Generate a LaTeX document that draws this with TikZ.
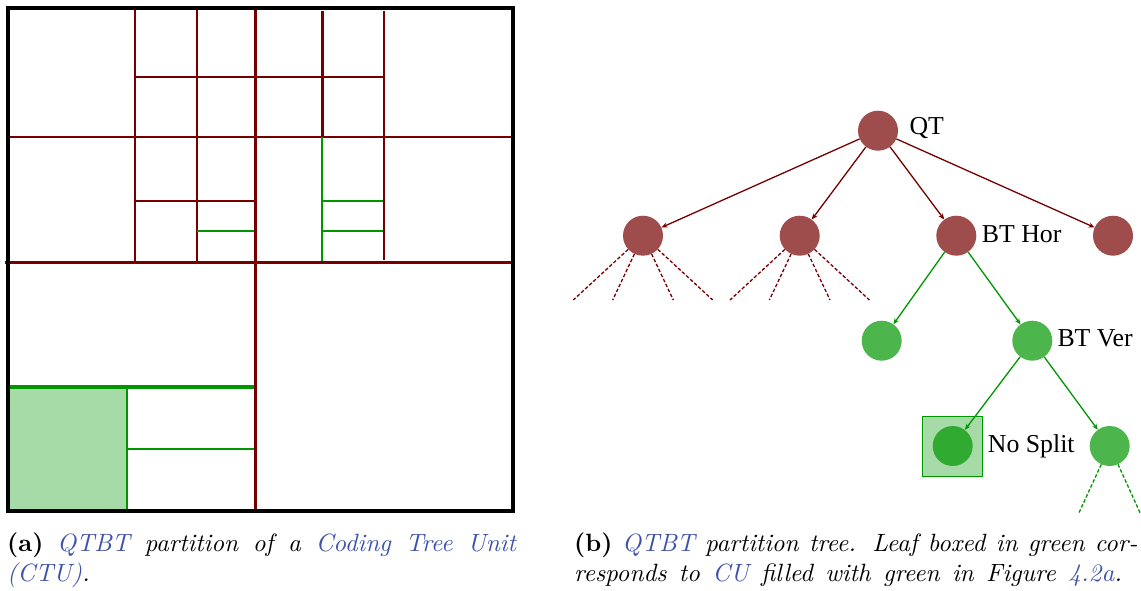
\documentclass[tikz,border=0pt]{standalone}
\usepackage{fontspec}
\usepackage{graphicx}
\newfontfamily\treefont{Liberation Serif}
\usetikzlibrary{arrows.meta}
\definecolor{dred}{RGB}{118,0,0}
\definecolor{dgreen}{RGB}{0,150,0}
\definecolor{linkblue}{RGB}{62,82,170}
\newcommand{\lk}[1]{{\color{linkblue}#1}}
\begin{document}
\begin{tikzpicture}[x=1pt,y=-1pt,
  rednode/.style={circle, fill=dred, fill opacity=0.7, minimum size=40pt, inner sep=0pt},
  greennode/.style={circle, fill=dgreen, fill opacity=0.7, minimum size=40pt, inner sep=0pt},
  leafbox/.style={rectangle, draw=dgreen, line width=1.2pt, fill=dgreen, fill opacity=0.35, minimum size=60pt, inner sep=0pt},
  redarrow/.style={draw=dred, line width=1.3pt, -{Stealth[length=6pt,width=5pt]}},
  greenarrow/.style={draw=dgreen, line width=1.3pt, -{Stealth[length=6pt,width=5pt]}},
  reddash/.style={draw=dred, line width=1.3pt, dash pattern=on 3.5pt off 2pt},
  greendash/.style={draw=dgreen, line width=1.3pt, dash pattern=on 3.5pt off 2pt},
  treelabel/.style={anchor=base west, inner sep=0pt, font=\treefont\fontsize{25.8}{30}\selectfont},
  captext/.style={anchor=base west, inner sep=0pt, font=\fontsize{10}{12}\selectfont},
  thinred/.style={draw=dred, line width=2pt},
  mainred/.style={draw=dred, line width=3pt},
  thingreen/.style={draw=dgreen, line width=2pt},
  thickgreen/.style={draw=dgreen, line width=4pt},
  border/.style={draw=black, line width=4pt}
]
\useasboundingbox (0,0) rectangle (1141,591);

% ---------- (a) partition ----------
\fill[dgreen, fill opacity=0.35] (7.7,386.7) rectangle (127.3,511.3);
% top-left quadrant
\draw[thinred] (7.7,137.3) -- (512.7,137.3);
\draw[thinred] (134.7,8) -- (134.7,262.7);
\draw[thinred] (196.7,8) -- (196.7,262.7);
\draw[thinred] (134.7,76.7) -- (383.8,76.7);
\draw[thinred] (134.7,200.7) -- (255,200.7);
\draw[thingreen] (196.7,231.3) -- (255,231.3);
% top-right quadrant
\draw[draw=dred, line width=2.6pt] (322.3,11) -- (322.3,137.3);
\draw[thingreen] (322.3,137.3) -- (322.3,262.7);
\draw[thinred] (384.3,11.5) -- (384.3,259.5);
\draw[thingreen] (322.3,200.7) -- (383.3,200.7);
\draw[thingreen] (322.3,231.3) -- (383.3,231.3);
% bottom-left quadrant
\draw[thickgreen] (7.7,386.7) -- (253.5,386.7);
\draw[thingreen] (127.3,386.7) -- (127.3,511.3);
\draw[thingreen] (127.3,448.7) -- (256,448.7);
% main split
\draw[mainred] (5,262.7) -- (512.7,262.7);
\draw[mainred] (255,8) -- (255,511.3);
% CTU border
\draw[border] (7.7,8) rectangle (512.7,511.3);

% ---------- (b) tree ----------
\node[leafbox] (box) at (952.3,446.2) {};
\node[rednode] (root) at (878,130.7) {};
\node[rednode] (n1) at (643,235.7) {};
\node[rednode] (n2) at (799.7,235.7) {};
\node[rednode] (bthor) at (956.3,235.7) {};
\node[rednode] (n4) at (1113,235.7) {};
\node[greennode] (g1) at (881.7,340.7) {};
\node[greennode] (btver) at (1032.3,340.7) {};
\node[greennode] (leaf) at (952.7,446) {};
\node[greennode] (g4) at (1109.7,446) {};

\node[treelabel] (lqt) at (909.3,135) {QT};
\node[treelabel] (lhor) at (981.7,242.3) {BT Hor};
\node[treelabel] (lver) at (1057.3,346.7) {BT Ver};
\node[treelabel] (lns) at (987.7,452.3) {No Split};

\draw[redarrow] (root) -- (n1);
\draw[redarrow] (root) -- (n2);
\draw[redarrow] (root) -- (bthor);
\draw[redarrow] (root) -- (n4);
\draw[greenarrow] (bthor) -- (g1);
\draw[greenarrow] (bthor) -- (btver);
\draw[greenarrow] (btver) -- (leaf);
\draw[greenarrow] (btver) -- (g4);

\path (n1) ++(-69.7,64.3) coordinate (n1a) (n1) ++(-30.3,64.3) coordinate (n1b)
      (n1) ++(30.3,64.3) coordinate (n1c) (n1) ++(69.7,64.3) coordinate (n1d);
\path (n2) ++(-69.7,64.3) coordinate (n2a) (n2) ++(-30.3,64.3) coordinate (n2b)
      (n2) ++(30.3,64.3) coordinate (n2c) (n2) ++(69.7,64.3) coordinate (n2d);
\path (g4) ++(-30.7,66.7) coordinate (g4a) (g4) ++(30.3,66.7) coordinate (g4b);
\foreach \e in {n1a,n1b,n1c,n1d} \draw[reddash] (n1) -- (\e);
\foreach \e in {n2a,n2b,n2c,n2d} \draw[reddash] (n2) -- (\e);
\foreach \e in {g4a,g4b} \draw[greendash] (g4) -- (\e);

% ---------- captions ----------
\node[captext] (capa1) at (7,551.7) {\scalebox{2.5}{\makebox[203.5pt][s]{\textbf{(a)} \textit{\lk{QTBT} partition of a \lk{Coding Tree Unit}}}}};
\node[captext] (capa2) at (7,581.7) {\scalebox{2.5}{\textit{\lk{(CTU)}.}}};
\node[captext] (capb1) at (574,551.7) {\scalebox{2.5}{\makebox[225.3pt][s]{\textbf{(b)} \textit{\lk{QTBT} partition tree. Leaf boxed in green cor-}}}};
\node[captext] (capb2) at (574,581.7) {\scalebox{2.5}{\makebox[219.1pt][s]{\textit{responds to \lk{CU} filled with green in Figure \lk{4.2a}.}}}};
\end{tikzpicture}
\end{document}
